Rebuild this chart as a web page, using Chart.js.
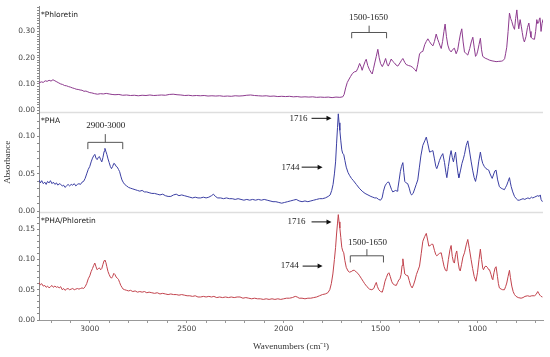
<!DOCTYPE html>
<html><head><meta charset="utf-8">
<script src="https://cdn.jsdelivr.net/npm/chart.js@4/dist/chart.umd.min.js"></script>
<style>html,body{margin:0;padding:0;background:#fff}</style>
</head><body>
<canvas id="c" width="550" height="357"></canvas>
<script>
// ---------- data (wavenumber cm-1, absorbance) ----------
const phloretinWn = [3262,3250,3240,3230,3220,3210,3200,3190,3180,3170,3160,3150,3140,3130,3120,3110,3100,3090,3080,3070,3060,3050,3040,3030,3020,3010,3000,2990,2975,2960,2945,2930,2915,2900,2885,2870,2850,2830,2810,2790,2770,2750,2730,2710,2690,2670,2650,2630,2610,2590,2570,2550,2530,2510,2490,2470,2450,2430,2410,2390,2370,2350,2330,2310,2290,2270,2250,2230,2210,2190,2170,2150,2130,2110,2090,2070,2050,2030,2010,1990,1970,1950,1930,1910,1890,1870,1850,1830,1810,1790,1770,1750,1730,1710,1695,1688,1680,1672,1665,1655,1645,1635,1625,1617,1608,1600,1595,1588,1580,1574,1566,1557,1550,1543,1536,1530,1522,1514,1507,1500,1491,1482,1474,1466,1460,1452,1445,1437,1428,1420,1411,1400,1392,1385,1375,1368,1355,1345,1334,1325,1316,1308,1299,1290,1282,1272,1264,1256,1248,1239,1230,1222,1213,1205,1199,1193,1187,1180,1173,1167,1160,1153,1145,1136,1127,1119,1110,1102,1095,1088,1081,1074,1067,1058,1050,1040,1032,1024,1017,1010,1004,999,992,985,979,973,960,950,939,925,910,904,890,875,870,860,855,849,842,835,829,823,816,809,803,797,792,787,780,774,769,763,758,750,742,735,729,724,715,706,700,694,689,684,680,677,672,667,662];
const phloretinAbs = [0.104,0.108,0.106,0.112,0.110,0.114,0.111,0.116,0.112,0.108,0.104,0.100,0.098,0.094,0.093,0.090,0.088,0.085,0.083,0.080,0.079,0.077,0.076,0.072,0.073,0.070,0.067,0.066,0.063,0.061,0.063,0.062,0.064,0.062,0.060,0.059,0.060,0.057,0.058,0.056,0.057,0.055,0.057,0.056,0.058,0.056,0.057,0.058,0.057,0.060,0.061,0.059,0.058,0.056,0.057,0.055,0.056,0.055,0.056,0.054,0.055,0.054,0.055,0.053,0.054,0.053,0.055,0.054,0.055,0.057,0.058,0.056,0.055,0.054,0.055,0.053,0.054,0.052,0.053,0.052,0.053,0.051,0.052,0.050,0.051,0.050,0.051,0.049,0.050,0.049,0.050,0.048,0.050,0.049,0.051,0.060,0.085,0.105,0.115,0.128,0.140,0.146,0.148,0.160,0.178,0.165,0.152,0.168,0.185,0.194,0.170,0.154,0.145,0.138,0.160,0.180,0.205,0.232,0.200,0.178,0.166,0.180,0.197,0.175,0.168,0.182,0.195,0.186,0.180,0.172,0.168,0.180,0.190,0.197,0.182,0.174,0.170,0.168,0.163,0.156,0.148,0.175,0.214,0.222,0.224,0.250,0.262,0.272,0.262,0.252,0.245,0.262,0.290,0.270,0.258,0.245,0.235,0.262,0.300,0.328,0.280,0.248,0.230,0.222,0.232,0.236,0.215,0.230,0.262,0.290,0.310,0.260,0.222,0.215,0.210,0.235,0.260,0.278,0.240,0.205,0.212,0.225,0.250,0.274,0.230,0.205,0.198,0.195,0.191,0.188,0.186,0.185,0.186,0.187,0.188,0.196,0.215,0.240,0.300,0.370,0.350,0.338,0.320,0.308,0.350,0.382,0.340,0.310,0.345,0.320,0.296,0.270,0.260,0.280,0.315,0.332,0.300,0.278,0.272,0.270,0.300,0.345,0.330,0.335,0.350,0.352,0.300,0.330,0.346];

const phaWn = [3262,3255,3248,3240,3232,3225,3218,3210,3203,3195,3188,3180,3172,3165,3158,3150,3142,3135,3128,3120,3112,3104,3096,3088,3080,3072,3064,3056,3048,3040,3032,3024,3016,3008,3000,2993,2986,2980,2974,2968,2962,2956,2950,2944,2938,2932,2926,2922,2917,2912,2906,2900,2894,2888,2882,2876,2870,2864,2858,2852,2846,2840,2834,2828,2820,2810,2800,2790,2778,2766,2754,2742,2730,2718,2706,2694,2680,2666,2652,2638,2624,2610,2596,2582,2568,2554,2540,2526,2512,2498,2484,2470,2456,2442,2428,2414,2400,2386,2372,2362,2352,2340,2325,2310,2295,2280,2265,2250,2235,2220,2205,2190,2175,2160,2145,2130,2115,2100,2085,2070,2055,2040,2025,2010,1995,1980,1965,1950,1935,1920,1905,1890,1875,1860,1845,1830,1815,1800,1785,1770,1760,1752,1745,1738,1732,1727,1722,1718,1714,1710,1705,1700,1695,1690,1684,1677,1668,1660,1650,1640,1625,1610,1595,1580,1565,1550,1540,1530,1520,1510,1500,1492,1485,1477,1470,1463,1457,1450,1443,1437,1430,1422,1415,1411,1404,1398,1392,1385,1380,1375,1368,1360,1352,1345,1340,1332,1324,1316,1308,1300,1292,1282,1272,1264,1256,1247,1238,1230,1222,1215,1210,1203,1196,1188,1179,1170,1163,1158,1150,1142,1136,1130,1124,1118,1113,1106,1100,1096,1088,1080,1073,1067,1058,1050,1042,1033,1025,1017,1010,1002,994,985,979,973,965,956,949,942,935,928,924,916,910,904,896,887,878,870,861,855,849,842,835,830,826,818,809,800,792,784,775,765,756,749,740,730,722,715,706,698,689,682,676,672,665];
const phaAbs = [0.042,0.038,0.041,0.037,0.039,0.036,0.040,0.038,0.041,0.037,0.039,0.036,0.038,0.035,0.037,0.036,0.034,0.035,0.032,0.034,0.036,0.034,0.036,0.035,0.037,0.034,0.036,0.037,0.036,0.039,0.040,0.044,0.050,0.056,0.060,0.066,0.071,0.074,0.076,0.071,0.069,0.072,0.073,0.069,0.066,0.072,0.080,0.084,0.080,0.076,0.070,0.065,0.060,0.057,0.060,0.064,0.063,0.060,0.059,0.056,0.053,0.047,0.042,0.039,0.036,0.034,0.032,0.031,0.030,0.029,0.028,0.027,0.028,0.026,0.026,0.025,0.024,0.024,0.023,0.022,0.023,0.021,0.020,0.020,0.022,0.023,0.021,0.022,0.021,0.020,0.019,0.018,0.019,0.018,0.018,0.019,0.018,0.019,0.021,0.023,0.020,0.018,0.018,0.017,0.018,0.017,0.017,0.016,0.017,0.016,0.015,0.016,0.015,0.016,0.015,0.016,0.015,0.016,0.015,0.014,0.013,0.013,0.012,0.011,0.012,0.013,0.014,0.015,0.016,0.014,0.013,0.014,0.013,0.014,0.015,0.016,0.017,0.017,0.018,0.020,0.022,0.028,0.036,0.050,0.066,0.090,0.112,0.130,0.118,0.108,0.094,0.082,0.077,0.076,0.068,0.059,0.052,0.048,0.044,0.041,0.036,0.031,0.027,0.024,0.022,0.020,0.019,0.018,0.018,0.016,0.015,0.018,0.027,0.034,0.037,0.039,0.039,0.034,0.029,0.026,0.027,0.028,0.027,0.030,0.042,0.053,0.060,0.065,0.052,0.040,0.038,0.037,0.031,0.024,0.022,0.024,0.030,0.036,0.042,0.058,0.074,0.088,0.094,0.099,0.090,0.079,0.080,0.081,0.070,0.060,0.057,0.062,0.068,0.073,0.077,0.065,0.052,0.045,0.060,0.074,0.081,0.072,0.066,0.074,0.079,0.062,0.050,0.045,0.054,0.064,0.070,0.076,0.088,0.094,0.082,0.067,0.055,0.045,0.040,0.050,0.066,0.079,0.070,0.064,0.060,0.057,0.056,0.055,0.050,0.046,0.044,0.050,0.054,0.055,0.042,0.033,0.031,0.030,0.029,0.032,0.035,0.040,0.045,0.038,0.033,0.026,0.020,0.017,0.015,0.015,0.016,0.017,0.016,0.017,0.018,0.017,0.019,0.018,0.019,0.020,0.021,0.020,0.022,0.016,0.013];

const blendWn = [3262,3255,3248,3240,3232,3225,3218,3210,3203,3195,3188,3180,3172,3165,3158,3150,3142,3135,3128,3120,3112,3104,3096,3088,3080,3072,3064,3056,3048,3040,3032,3024,3016,3008,3000,2993,2986,2980,2974,2968,2962,2956,2950,2944,2938,2932,2926,2922,2917,2912,2906,2900,2894,2888,2882,2876,2870,2864,2858,2852,2846,2840,2834,2828,2820,2810,2800,2790,2778,2766,2754,2742,2730,2718,2706,2694,2680,2666,2652,2638,2624,2610,2596,2582,2568,2554,2540,2526,2512,2498,2484,2470,2456,2442,2428,2414,2400,2386,2372,2360,2345,2330,2315,2300,2285,2270,2255,2240,2225,2210,2195,2180,2165,2150,2135,2120,2105,2090,2075,2060,2045,2030,2015,2000,1985,1970,1955,1940,1930,1920,1905,1890,1875,1860,1845,1830,1815,1800,1785,1772,1762,1754,1746,1738,1732,1727,1722,1718,1714,1710,1705,1700,1695,1690,1684,1677,1668,1660,1651,1642,1634,1625,1617,1608,1600,1590,1582,1570,1557,1545,1535,1528,1522,1516,1509,1500,1491,1484,1477,1470,1463,1457,1450,1443,1437,1428,1419,1412,1406,1400,1394,1389,1385,1380,1375,1368,1359,1352,1345,1337,1330,1322,1315,1307,1299,1290,1282,1272,1264,1257,1251,1244,1237,1230,1222,1215,1210,1203,1196,1187,1180,1172,1165,1158,1150,1142,1136,1130,1124,1119,1113,1107,1100,1094,1089,1082,1075,1067,1058,1050,1042,1033,1025,1017,1008,1000,992,985,979,973,969,962,956,949,942,938,930,924,921,915,909,904,897,892,887,878,870,861,855,849,842,835,830,823,816,809,801,790,775,765,755,741,730,720,706,698,689,684,678,672,665];
const blendAbs = [0.062,0.058,0.060,0.056,0.057,0.054,0.056,0.053,0.055,0.057,0.054,0.056,0.054,0.055,0.053,0.055,0.050,0.052,0.049,0.051,0.052,0.050,0.051,0.052,0.050,0.051,0.052,0.051,0.052,0.053,0.052,0.055,0.060,0.068,0.073,0.080,0.085,0.090,0.094,0.088,0.083,0.085,0.086,0.083,0.085,0.092,0.098,0.099,0.095,0.088,0.080,0.075,0.071,0.069,0.072,0.077,0.075,0.071,0.069,0.067,0.062,0.057,0.054,0.051,0.050,0.049,0.048,0.049,0.047,0.048,0.046,0.047,0.046,0.047,0.045,0.046,0.045,0.044,0.045,0.043,0.044,0.043,0.042,0.043,0.042,0.042,0.041,0.042,0.041,0.040,0.040,0.039,0.040,0.038,0.038,0.039,0.038,0.039,0.038,0.039,0.037,0.038,0.037,0.038,0.037,0.038,0.037,0.038,0.038,0.036,0.037,0.036,0.035,0.036,0.035,0.035,0.034,0.035,0.034,0.035,0.034,0.035,0.034,0.035,0.036,0.036,0.037,0.039,0.038,0.036,0.036,0.035,0.036,0.036,0.037,0.038,0.040,0.042,0.043,0.045,0.050,0.060,0.076,0.100,0.120,0.142,0.160,0.174,0.162,0.152,0.136,0.120,0.114,0.111,0.098,0.087,0.081,0.079,0.080,0.082,0.082,0.079,0.077,0.073,0.069,0.064,0.060,0.055,0.051,0.050,0.052,0.058,0.062,0.055,0.050,0.047,0.046,0.054,0.064,0.070,0.076,0.078,0.072,0.064,0.060,0.058,0.057,0.062,0.066,0.068,0.075,0.090,0.101,0.088,0.076,0.074,0.073,0.065,0.057,0.053,0.058,0.066,0.075,0.082,0.089,0.110,0.130,0.138,0.143,0.132,0.122,0.123,0.125,0.125,0.115,0.108,0.106,0.108,0.110,0.111,0.100,0.088,0.082,0.081,0.100,0.116,0.123,0.105,0.096,0.094,0.108,0.114,0.096,0.084,0.081,0.092,0.104,0.111,0.124,0.133,0.118,0.100,0.085,0.072,0.064,0.078,0.100,0.117,0.100,0.086,0.083,0.088,0.089,0.087,0.083,0.083,0.075,0.068,0.067,0.078,0.086,0.088,0.072,0.060,0.053,0.051,0.050,0.050,0.055,0.061,0.072,0.082,0.070,0.056,0.047,0.042,0.039,0.037,0.036,0.037,0.039,0.040,0.039,0.040,0.040,0.042,0.047,0.044,0.041,0.039,0.038];

const panelNames = ['*Phloretin', '*PHA', '*PHA/Phloretin'];
const xTickLabels = [3000, 2500, 2000, 1500, 1000];
const xTickMarks = [3200,3100,3000,2900,2800,2700,2600,2500,2400,2300,2200,2100,2000,1900,1800,1700,1600,1500,1400,1300,1200,1100,1000,900,800,700];
const yTicksA = [0.00, 0.10, 0.20, 0.30];
const yTicksB = [0.00, 0.05, 0.10];
const yTicksC = [0.00, 0.05, 0.10, 0.15];

// annotation anchors (data units)
const notes = [
  {axis:'yA', text:'1500-1650', x:1562, y:0.352},
  {axis:'yB', text:'2900-3000', x:2918, y:0.114},
  {axis:'yB', text:'1716', x:1923, y:0.124},
  {axis:'yB', text:'1744', x:1964, y:0.059},
  {axis:'yC', text:'1716', x:1933, y:0.162},
  {axis:'yC', text:'1744', x:1969, y:0.089},
  {axis:'yC', text:'1500-1650', x:1567, y:0.128}
];
const brackets = [
  {axis:'yA', from:1649, to:1469, y:0.296, foot:0.274, tip:0.322},
  {axis:'yB', from:3010, to:2830, y:0.092, foot:0.083, tip:0.103},
  {axis:'yC', from:1656, to:1485, y:0.106, foot:0.095, tip:0.117}
];
const arrows = [
  {axis:'yB', from:1856, to:1753, y:0.124},
  {axis:'yB', from:1907, to:1799, y:0.059},
  {axis:'yC', from:1856, to:1753, y:0.162},
  {axis:'yC', from:1902, to:1799, y:0.089}
];

const pairs = (w, a) => w.map((v, i) => ({x: v, y: a[i]}));

const sans = 'DejaVu Sans';
const serif = 'Liberation Serif';

function yAxis(min, max, majors, weight, extra) {
  const marks = [];
  for (let k = 0; k / 100 <= max; k++) marks.push(k / 100);
  return Object.assign({
    type: 'linear', position: 'left', stack: 'panels', stackWeight: weight,
    min: min, max: max,
    afterFit: s => { s.width = 39; },
    afterBuildTicks: s => { s.ticks = marks.map(v => ({value: v})); },
    border: {display: true, color: '#8a8a8a', dash: [1, 1.5]},
    grid: {drawOnChartArea: false, drawTicks: true, tickLength: 2, color: '#8a8a8a'},
    ticks: {
      autoSkip: false, padding: 2,
      color: '#444', font: {family: sans, size: 7.5},
      callback: v => majors.some(m => Math.abs(m - v) < 1e-6) ? v.toFixed(2) : ''
    }
  }, extra || {});
}

const annotPlugin = {
  id: 'annot',
  beforeDatasetsDraw(chart) {
    const ctx = chart.ctx, s = chart.scales, ca = chart.chartArea;
    ctx.save();
    ctx.strokeStyle = '#dedede'; ctx.lineWidth = 1.5;
    ['yB', 'yC'].forEach(id => {
      const t = Math.round(s[id].top) + 0.5;
      ctx.beginPath(); ctx.moveTo(ca.left + 1, t); ctx.lineTo(ca.right, t); ctx.stroke();
    });
    ctx.restore();
  },
  afterDatasetsDraw(chart) {
    const ctx = chart.ctx, s = chart.scales, xs = s.x;
    ctx.save();
    ctx.fillStyle = '#222'; ctx.font = '7.5px "' + sans + '"';
    ctx.textAlign = 'left'; ctx.textBaseline = 'middle';
    ['yA', 'yB', 'yC'].forEach((id, i) => {
      ctx.fillText(panelNames[i], chart.chartArea.left + 2, s[id].top + 9);
    });
    ctx.font = '9px "' + serif + '"'; ctx.fillStyle = '#222'; ctx.textAlign = 'center';
    notes.forEach(n => ctx.fillText(n.text, xs.getPixelForValue(n.x), s[n.axis].getPixelForValue(n.y)));
    ctx.strokeStyle = '#555'; ctx.lineWidth = 1;
    brackets.forEach(b => {
      const ys = s[b.axis];
      const x1 = xs.getPixelForValue(b.from), x2 = xs.getPixelForValue(b.to), xm = (x1 + x2) / 2;
      const y = ys.getPixelForValue(b.y), yf = ys.getPixelForValue(b.foot), yt = ys.getPixelForValue(b.tip);
      ctx.beginPath();
      ctx.moveTo(x1, yf); ctx.lineTo(x1, y); ctx.lineTo(x2, y); ctx.lineTo(x2, yf);
      ctx.moveTo(xm, y); ctx.lineTo(xm, yt);
      ctx.stroke();
    });
    ctx.strokeStyle = '#111'; ctx.fillStyle = '#111';
    arrows.forEach(a => {
      const ys = s[a.axis];
      const x1 = xs.getPixelForValue(a.from), x2 = xs.getPixelForValue(a.to), y = ys.getPixelForValue(a.y);
      ctx.beginPath(); ctx.moveTo(x1, y); ctx.lineTo(x2 - 4, y); ctx.stroke();
      ctx.beginPath(); ctx.moveTo(x2, y); ctx.lineTo(x2 - 5, y - 2.5); ctx.lineTo(x2 - 5, y + 2.5); ctx.closePath(); ctx.fill();
    });
    ctx.restore();
  }
};

new Chart(document.getElementById('c'), {
  type: 'line',
  data: {
    datasets: [
      {label: 'Phloretin', data: pairs(phloretinWn, phloretinAbs), yAxisID: 'yA', borderColor: '#8d3b8e', borderWidth: 1, pointRadius: 0, fill: false},
      {label: 'PHA', data: pairs(phaWn, phaAbs), yAxisID: 'yB', borderColor: '#3b3fa3', borderWidth: 1, pointRadius: 0, fill: false},
      {label: 'PHA/Phloretin', data: pairs(blendWn, blendAbs), yAxisID: 'yC', borderColor: '#c2434d', borderWidth: 1, pointRadius: 0, fill: false}
    ]
  },
  options: {
    responsive: false, animation: false,
    layout: {padding: {top: 3, right: 7, left: 0, bottom: 0}},
    plugins: {legend: {display: false}, tooltip: {enabled: false}},
    scales: {
      x: {
        type: 'linear', reverse: true, min: 662, max: 3262,
        afterFit: s => { s.height = 37; },
        afterBuildTicks: s => { s.ticks = xTickMarks.map(v => ({value: v})); },
        border: {display: true, color: '#999'},
        grid: {drawOnChartArea: false, drawTicks: true, tickLength: 3, color: '#999'},
        ticks: {
          autoSkip: false, maxRotation: 0, padding: 2,
          color: '#444', font: {family: sans, size: 7.5},
          callback: v => xTickLabels.includes(v) ? String(v) : ''
        },
        title: {display: true, text: 'Wavenumbers (cm\u207B\u00B9)', color: '#333', font: {family: serif, size: 9}, padding: {top: 0, bottom: 5}}
      },
      yC: yAxis(0, 0.178, yTicksC, 109),
      yB: yAxis(-0.001, 0.132, yTicksB, 101, {title: {display: true, text: 'Absorbance', color: '#333', font: {family: serif, size: 9}, padding: {top: 2, bottom: 0}}}),
      yA: yAxis(-0.008, 0.395, yTicksA, 107)
    }
  },
  plugins: [annotPlugin]
});
</script>
</body></html>
